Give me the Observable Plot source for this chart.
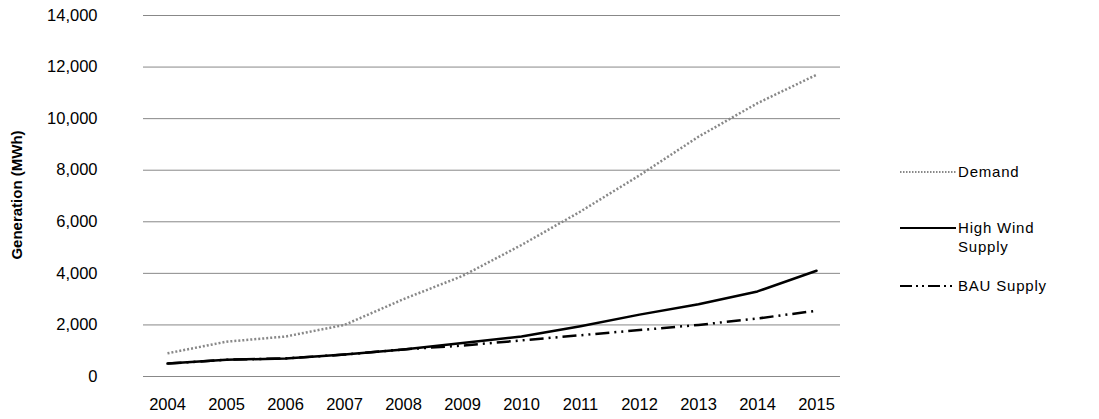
<!DOCTYPE html>
<html><head>
<script src="https://cdn.jsdelivr.net/npm/d3@7"></script>
<script src="https://cdn.jsdelivr.net/npm/@observablehq/plot@0.6"></script>
<style>
body{margin:0;background:#fff;font-family:"Liberation Sans",Arial,sans-serif;}
#wrap{position:relative;width:1099px;height:419px;}
.leg{position:absolute;left:900px;font-size:15px;color:#000;letter-spacing:0.8px;}
.leg svg{position:absolute;left:0;top:8px;}
.leg span{position:absolute;left:58px;top:0;white-space:nowrap;line-height:19px;}
</style></head><body>
<div id="wrap"><div id="chart"></div>
<div class="leg" style="top:162px"><svg width="56" height="4"><line x1="0" y1="2" x2="56" y2="2" stroke="#888" stroke-width="2" stroke-dasharray="1.5,1.5"/></svg><span>Demand</span></div>
<div class="leg" style="top:218px"><svg width="56" height="4"><line x1="0" y1="2" x2="56" y2="2" stroke="#000" stroke-width="2"/></svg><span>High Wind<br>Supply</span></div>
<div class="leg" style="top:276px"><svg width="56" height="4"><line x1="0" y1="2" x2="56" y2="2" stroke="#000" stroke-width="2" stroke-dasharray="12,4,2,4,2,4"/></svg><span>BAU Supply</span></div>
</div>
<script>
const years=[2004,2005,2006,2007,2008,2009,2010,2011,2012,2013,2014,2015];
const demand=[900,1350,1550,2000,3000,3900,5100,6400,7800,9300,10600,11700];
const highWind=[500,650,700,850,1050,1300,1550,1950,2400,2800,3300,4100];
const bau=[500,650,700,850,1050,1200,1400,1600,1800,2000,2250,2550];
const mk=(arr)=>years.map((y,i)=>({year:String(y),v:arr[i]}));
const chart=Plot.plot({
  width:860,height:419,marginLeft:143,marginRight:20,marginTop:15,marginBottom:43,
  style:{fontFamily:"Liberation Sans, Arial, sans-serif",fontSize:"16.5px",color:"#000"},
  x:{type:"point",domain:years.map(String),padding:0.33,label:null,tickSize:0,tickPadding:22},
  y:{domain:[0,14000],ticks:d3.range(0,14001,2000),label:null,tickSize:0,tickPadding:46,tickFormat:d3.format(",")},
  marks:[
    Plot.ruleY(d3.range(0,14001,2000),{stroke:"#888",strokeWidth:1}),
    Plot.line(mk(demand),{x:"year",y:"v",stroke:"#888",strokeWidth:2.5,strokeDasharray:"2,2",strokeLinecap:"butt"}),
    Plot.line(mk(bau),{x:"year",y:"v",stroke:"#000",strokeWidth:2.5,strokeDasharray:"14,5,2,5,2,5",strokeLinecap:"butt"}),
    Plot.line(mk(highWind),{x:"year",y:"v",stroke:"#000",strokeWidth:2.5})
  ]
});
document.getElementById("chart").appendChild(chart);
const svg=d3.select(chart);
svg.append("text").attr("transform","translate(22,195) rotate(-90)").attr("text-anchor","middle")
  .attr("font-weight","bold").attr("font-size",15).text("Generation (MWh)");
</script>
</body></html>
